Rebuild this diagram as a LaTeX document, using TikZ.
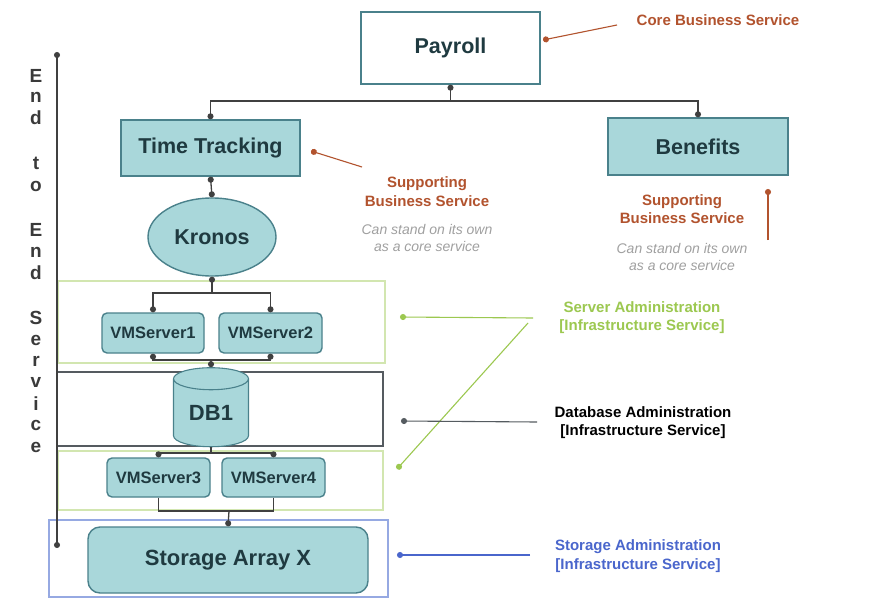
\documentclass[tikz,border=0pt]{standalone}
\usepackage{fontspec}
\setmainfont{Liberation Sans}
\usetikzlibrary{shapes.geometric,arrows.meta}
\definecolor{tealfill}{HTML}{A9D7DA}
\definecolor{tealline}{HTML}{4A818B}
\definecolor{ntext}{HTML}{1F3A40}
\definecolor{rust}{HTML}{B2532E}
\definecolor{softgray}{HTML}{A0A0A0}
\definecolor{srvgreen}{HTML}{9CC850}
\definecolor{srvbox}{HTML}{D2E6B0}
\definecolor{dbgray}{HTML}{555B60}
\definecolor{stblue}{HTML}{4A66CC}
\definecolor{stbox}{HTML}{96A9E2}
\definecolor{vletter}{HTML}{3A3A3A}
\begin{document}
\begin{tikzpicture}[x=1pt,y=-1pt,
  box/.style={draw=tealline, line width=1.4pt, fill=tealfill, text=ntext, inner sep=0pt,
    font=\fontsize{21.5}{26}\bfseries\selectfont},
  vmbox/.style={box, rounded corners=5pt, font=\fontsize{16.5}{20}\bfseries\selectfont},
  region/.style={draw, line width=1.1pt, inner sep=0pt},
  conn/.style={draw=black!75, line width=1.3pt},
  dot/.tip={Circle[length=6pt]},
  ann/.style={line width=1.1pt},
  vlet/.style={font=\fontsize{19}{20}\bfseries\selectfont, text=vletter, inner sep=0pt},
  lbl/.style={font=\fontsize{15}{18.5}\bfseries\selectfont, align=center, inner sep=0pt},
  itl/.style={font=\fontsize{14}{17}\itshape\selectfont, align=center, inner sep=0pt, text=softgray}
]
\useasboundingbox[fill=white] (0,0) rectangle (872,599);

% regions
\node[region, draw=srvbox, minimum width=327pt, minimum height=82pt] (srvtop) at (221.5,322) {};
\node[region, draw=dbgray, minimum width=326pt, minimum height=74pt] (dbreg) at (220,409) {};
\node[region, draw=srvbox, minimum width=325pt, minimum height=59pt] (srvlow) at (220.5,480.5) {};
\node[region, draw=stbox, minimum width=339pt, minimum height=77pt] (streg) at (218.5,558.5) {};

% main nodes
\node[box, fill=white, minimum width=179pt, minimum height=72pt] (payroll) at (450.5,48) {Payroll};
\node[box, minimum width=179pt, minimum height=56pt] (tt) at (210.5,148) {Time Tracking};
\node[box, minimum width=180pt, minimum height=57pt] (ben) at (698,146.5) {Benefits};
\node[box, ellipse, minimum width=128pt, minimum height=78pt] (kronos) at (212,237) {Kronos};
\node[vmbox, minimum width=102pt, minimum height=40pt] (vm1) at (153,333) {VMServer1};
\node[vmbox, minimum width=103pt, minimum height=40pt] (vm2) at (270.5,333) {VMServer2};
\node[box, cylinder, shape border rotate=90, aspect=0.5, line width=1.1pt, minimum width=75pt, minimum height=79pt, font=\fontsize{22}{26}\bfseries\selectfont] (db) at (211,413) {DB1};
\node[vmbox, minimum width=103pt, minimum height=39pt] (vm3) at (158.5,477.5) {VMServer3};
\node[vmbox, minimum width=103pt, minimum height=39pt] (vm4) at (273.5,477.5) {VMServer4};
\node[box, rounded corners=12pt, minimum width=280pt, minimum height=66pt, font=\fontsize{22}{27}\bfseries\selectfont] (storage) at (228,560) {Storage Array X};

% connectors
\coordinate (j0) at (450.5,101);
\draw[conn, {dot}-] (payroll.south) -- (j0);
\draw[conn, -{dot}] (j0) -| (tt.north);
\draw[conn, -{dot}] (j0) -| (ben.north);
\draw[conn, {dot}-{dot}] (tt.south) -- (kronos.north);
\coordinate (j1) at (212,293);
\draw[conn, {dot}-] (kronos.south) -- (j1);
\draw[conn, -{dot}] (j1) -| (vm1.north);
\draw[conn, -{dot}] (j1) -| (vm2.north);
\coordinate (j2) at (211,360);
\draw[conn, {dot}-] (vm1.south) |- (j2);
\draw[conn, {dot}-] (vm2.south) |- (j2);
\draw[conn, -{dot}] (j2) -- (db.north);
\coordinate (j3) at (211,453);
\draw[conn] (db.south) -- (j3);
\draw[conn, -{dot}] (j3) -| (vm3.north);
\draw[conn, -{dot}] (j3) -| (vm4.north);
\coordinate (j4) at (229,511);
\draw[conn] (vm3.south) |- (j4);
\draw[conn] (vm4.south) |- (j4);
\draw[conn, -{dot}] (j4) -- (storage.north);

% end-to-end axis
\coordinate (axtop) at (57,52);
\coordinate (axbot) at (57,548);
\draw[conn, {dot}-{dot}] (axbot) -- (axtop);
\foreach \ch/\yy in {E/76,n/97,d/118,t/163,o/186,E/230,n/252,d/273,S/318,e/340,r/361,v/382,i/404,c/425,e/447}
  \node[vlet] (l\yy) at (36,\yy) {\ch};

% annotations
\node[lbl, text=rust] (corelbl) at (718,20) {Core Business Service};
\coordinate (ca) at (617,25); \coordinate (cb) at (543,40);
\draw[ann, draw=rust, -{dot}] (ca) -- (cb);

\node[lbl, text=rust] (sup1) at (427,191.5) {Supporting\\Business Service};
\node[itl] (can1) at (427,237.5) {Can stand on its own\\as a core service};
\coordinate (s1a) at (362,167); \coordinate (s1b) at (311,151);
\draw[ann, draw=rust, -{dot}] (s1a) -- (s1b);

\node[lbl, text=rust] (sup2) at (682,209) {Supporting\\Business Service};
\node[itl] (can2) at (682,257) {Can stand on its own\\as a core service};
\coordinate (s2a) at (768,240); \coordinate (s2b) at (768,189);
\draw[ann, draw=rust, -{dot}] (s2a) -- (s2b);

\node[lbl, text=srvgreen] (srvlbl) at (642,317.5) {Server Administration\\{[Infrastructure Service]}};
\coordinate (g1a) at (533,318); \coordinate (g1b) at (400,317);
\coordinate (g2a) at (528,323); \coordinate (g2b) at (397,469);
\draw[ann, draw=srvgreen, -{dot}] (g1a) -- (g1b);
\draw[ann, draw=srvgreen, -{dot}] (g2a) -- (g2b);

\node[lbl, text=black] (dblbl) at (643,422.5) {Database Administration\\{[Infrastructure Service]}};
\coordinate (d1a) at (537,422); \coordinate (d1b) at (401,421);
\draw[ann, draw=dbgray, -{dot}] (d1a) -- (d1b);

\node[lbl, text=stblue] (stlbl) at (638,556) {Storage Administration\\{[Infrastructure Service]}};
\coordinate (b1a) at (530,555); \coordinate (b1b) at (397,555);
\draw[ann, draw=stblue, -{dot}] (b1a) -- (b1b);
\end{tikzpicture}
\end{document}
